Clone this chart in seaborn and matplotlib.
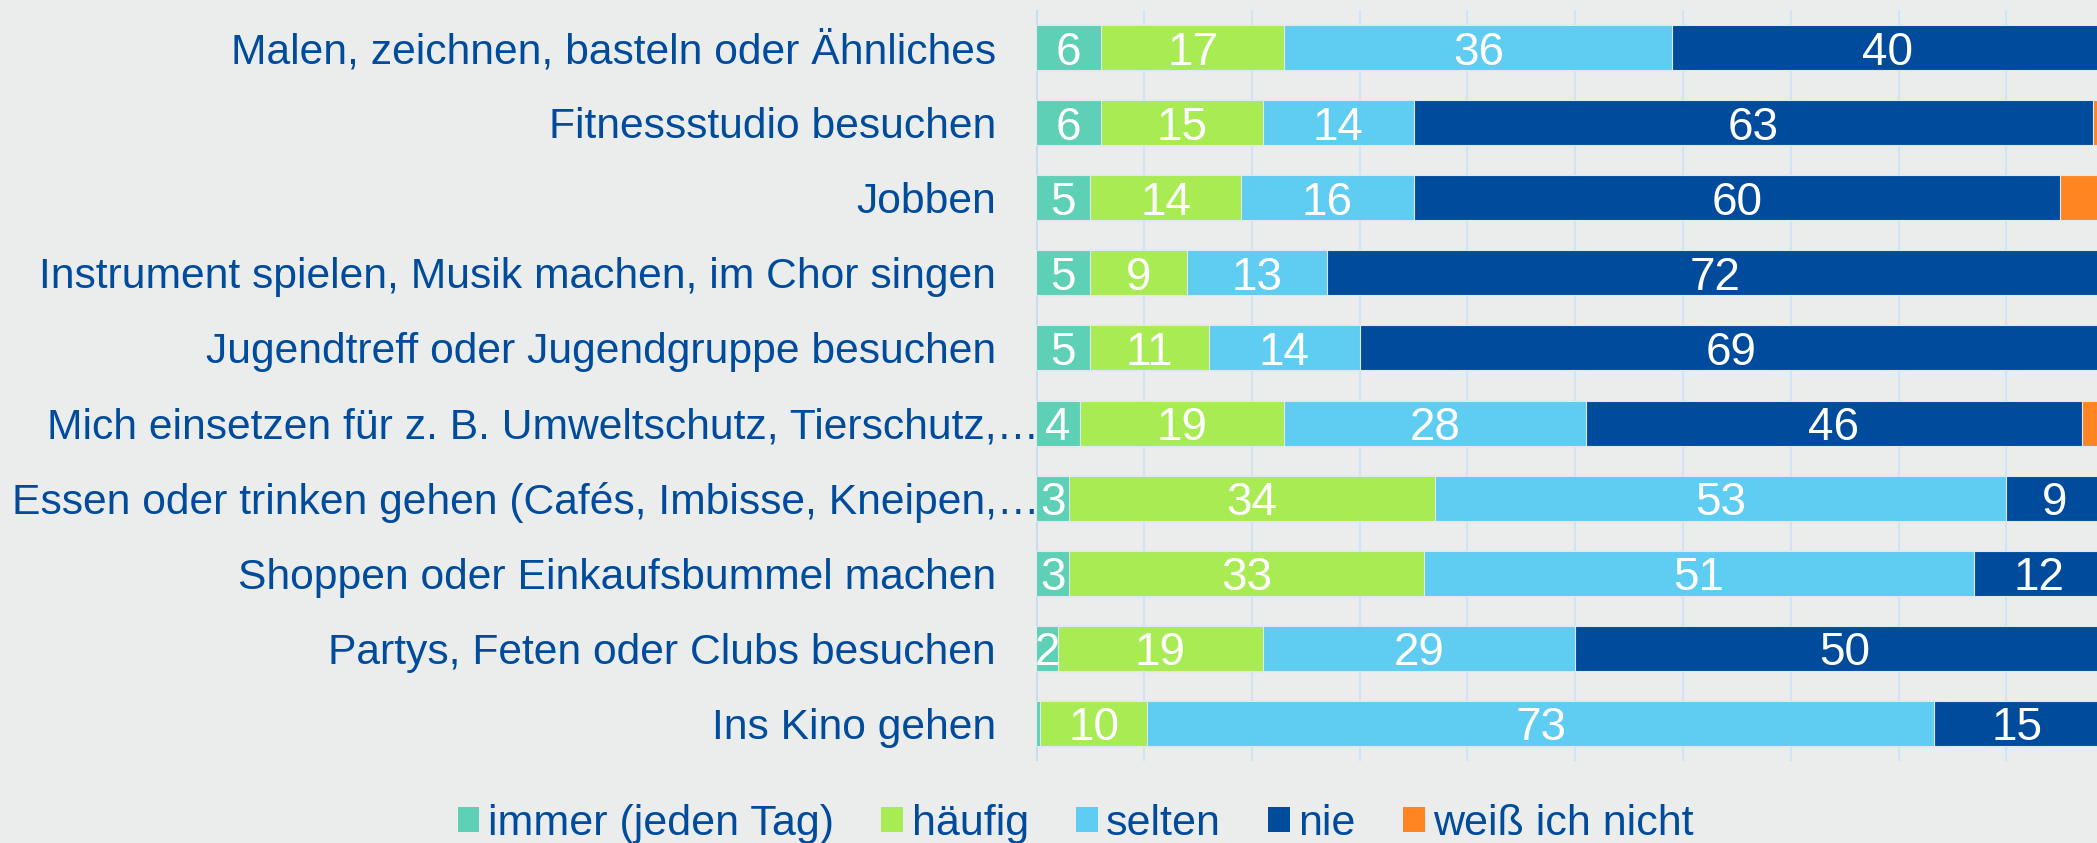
import matplotlib
matplotlib.use("Agg")
import matplotlib.pyplot as plt
from matplotlib.patches import Patch
from matplotlib.transforms import ScaledTranslation
import seaborn as sns
import pandas as pd
import numpy as np

categories = [
    "Malen, zeichnen, basteln oder Ähnliches",
    "Fitnessstudio besuchen",
    "Jobben",
    "Instrument spielen, Musik machen, im Chor singen",
    "Jugendtreff oder Jugendgruppe besuchen",
    "Mich einsetzen für z. B. Umweltschutz, Tierschutz,…",
    "Essen oder trinken gehen (Cafés, Imbisse, Kneipen,…",
    "Shoppen oder Einkaufsbummel machen",
    "Partys, Feten oder Clubs besuchen",
    "Ins Kino gehen",
]
series_names = ["immer (jeden Tag)", "häufig", "selten", "nie", "weiß ich nicht"]
immer = [6, 6, 5, 5, 5, 4, 3, 3, 2, 0.3]
haeufig = [17, 15, 14, 9, 11, 19, 34, 33, 19, 10]
selten = [36, 14, 16, 13, 14, 28, 53, 51, 29, 73]
nie = [40, 63, 60, 72, 69, 46, 9, 12, 50, 15.4]
weiss = [1, 2, 5, 1, 1, 3, 1, 1, 0, 1.3]

colors = ["#5dd0b5", "#a8eb52", "#5fccf2", "#004b9c", "#ff8522"]
bg = "#ebeded"
text_col = "#004b9c"
grid_col = "#d2e3f5"

sns.set_theme(style="white")
plt.rcParams["font.family"] = ["Liberation Sans", "DejaVu Sans"]

W, H = 2097, 843
fig = plt.figure(figsize=(W / 100, H / 100), dpi=100, facecolor=bg)
ax = fig.add_axes([1036.4 / W, 1 - 761 / H, 1077.7 / W, 751 / H])
ax.set_facecolor(bg)

values = [immer, haeufig, selten, nie, weiss]
cum = np.zeros(len(categories))
cums = []
for v in values:
    cum = cum + np.array(v, dtype=float)
    cums.append(cum.copy())

# draw cumulative bars from the longest to the shortest
for i in range(len(values) - 1, -1, -1):
    d = pd.DataFrame({"cat": categories, "val": cums[i]})
    sns.barplot(data=d, y="cat", x="val", order=categories, color=colors[i],
                saturation=1, width=0.6, edgecolor="#dfe8ef", linewidth=0.8,
                ax=ax, orient="h", zorder=3)

# labels centred in segments (first four series)
for i in range(4):
    starts = cums[i] - np.array(values[i], dtype=float)
    for j, v in enumerate(values[i]):
        if v >= 1:
            ax.text(starts[j] + v / 2, j, f"{v:.0f}", ha="center", va="center_baseline",
                    color="white", fontsize=33, zorder=5)

ax.set_xlim(0, 100)
ax.set_ylim(len(categories) - 0.5, -0.5)
ax.set_xticks(np.arange(0, 101, 10))
ax.set_xticklabels([])
ax.xaxis.grid(True, color=grid_col, linewidth=1.5, zorder=0)
ax.yaxis.grid(False)
ax.set_axisbelow(True)
for s in ax.spines.values():
    s.set_visible(False)
ax.axvline(0, color="#c5dcf2", linewidth=2, zorder=1)
ax.tick_params(axis="both", length=0)
ax.set_xlabel("")
ax.set_ylabel("")
ax.set_yticks(range(len(categories)))
ax.set_yticklabels(categories, color=text_col, fontsize=30.7)
ax.tick_params(axis="y", pad=29)
for lab in ax.get_yticklabels():
    if lab.get_text().endswith("…"):
        lab.set_transform(lab.get_transform() + ScaledTranslation(0.43, 0, fig.dpi_scale_trans))

handles = [Patch(facecolor=c, edgecolor="none") for c in colors]
leg = fig.legend(handles, series_names, loc="center", bbox_to_anchor=(1076 / W, 1 - 824 / H),
                 ncol=5, frameon=False, handlelength=0.5, handleheight=0.5,
                 handletextpad=0.2, columnspacing=1.1, borderpad=0, borderaxespad=0,
                 prop={"family": ["Liberation Sans", "DejaVu Sans"], "size": 31})
for t in leg.get_texts():
    t.set_color(text_col)

fig.savefig("out.png", dpi=100, facecolor=bg)
